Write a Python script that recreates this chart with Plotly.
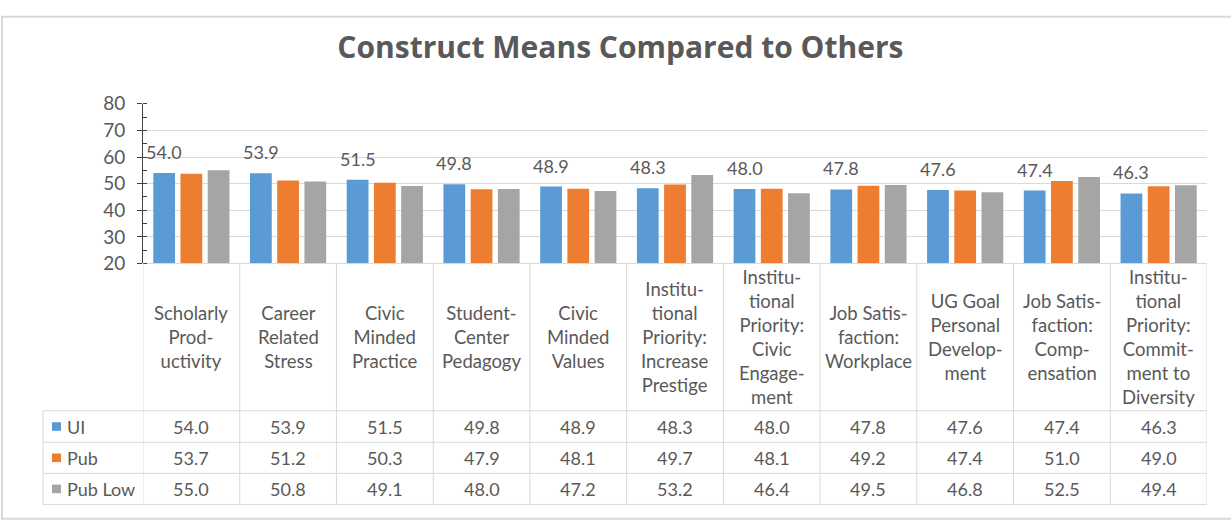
import plotly.graph_objects as go

# ---------------- data ----------------
categories = [
    "Scholarly<br>Prod-<br>uctivity",
    "Career<br>Related<br>Stress",
    "Civic<br>Minded<br>Practice",
    "Student-<br>Center<br>Pedagogy",
    "Civic<br>Minded<br>Values",
    "Institu-<br>tional<br>Priority:<br>Increase<br>Prestige",
    "Institu-<br>tional<br>Priority:<br>Civic<br>Engage-<br>ment",
    "Job Satis-<br>faction:<br>Workplace",
    "UG Goal<br>Personal<br>Develop-<br>ment",
    "Job Satis-<br>faction:<br>Comp-<br>ensation",
    "Institu-<br>tional<br>Priority:<br>Commit-<br>ment to<br>Diversity",
]
series_names = ["UI", "Pub", "Pub Low"]
ui_values = [54.0, 53.9, 51.5, 49.8, 48.9, 48.3, 48.0, 47.8, 47.6, 47.4, 46.3]
pub_values = [53.7, 51.2, 50.3, 47.9, 48.1, 49.7, 48.1, 49.2, 47.4, 51.0, 49.0]
pub_low_values = [55.0, 50.8, 49.1, 48.0, 47.2, 53.2, 46.4, 49.5, 46.8, 52.5, 49.4]
y_ticks = [20, 30, 40, 50, 60, 70, 80]

# ---------------- styling ----------------
W, H = 1231, 525
FONT = "Lato"
TXT = "#595959"
GRID = "#D9D9D9"
colors = ["#5B9BD5", "#ED7D31", "#A5A5A5"]
series_values = [ui_values, pub_values, pub_low_values]

plot_left, plot_right = 143, 1207
plot_top, plot_bottom = 96, 263
table_left = 43
header_bottom = 417
row_lines = [417, 450, 482.5, 515]

BARGAP = 0.156
BARGROUPGAP = 0.2


def px_x(px):
    return px / W


def px_y(py):
    return 1 - py / H


fig = go.Figure()
for name, vals, col in zip(series_names, series_values, colors):
    fig.add_trace(go.Bar(
        name=name, x=categories, y=vals,
        marker=dict(color=col, line=dict(width=0)),
        hoverinfo="x+y+name",
    ))

shapes = []
annotations = []

# data labels above the UI bars
cat_px = (plot_right - plot_left) / len(categories)
slot_px = cat_px * (1 - BARGAP) / len(series_names)
for c, v in zip(categories, ui_values):
    annotations.append(dict(
        x=c, y=v, xref="x", yref="y", text=f"{v:.1f}", showarrow=False,
        xshift=-slot_px, yshift=21, yanchor="middle",
        font=dict(family=FONT, size=18, color=TXT),
    ))

# table header: category labels
header_mid = px_y((plot_bottom + header_bottom) / 2)
for c in categories:
    annotations.append(dict(
        x=c, y=header_mid, xref="x", yref="paper", text=c, showarrow=False,
        yanchor="middle", align="center",
        font=dict(family=FONT, size=18.5, color=TXT),
    ))

# table rows
for r, (name, vals, col) in enumerate(zip(series_names, series_values, colors)):
    top, bot = row_lines[r], row_lines[r + 1]
    mid = px_y((top + bot) / 2)
    for c, v in zip(categories, vals):
        annotations.append(dict(
            x=c, y=mid, xref="x", yref="paper", text=f"{v:.1f}", showarrow=False,
            yanchor="middle",
            font=dict(family=FONT, size=18, color=TXT),
        ))
    # legend key
    cy = (top + bot) / 2
    shapes.append(dict(type="rect", xref="paper", yref="paper",
                       x0=px_x(52), x1=px_x(61), y0=px_y(cy - 4.5), y1=px_y(cy + 4.5),
                       fillcolor=col, line=dict(width=0)))
    annotations.append(dict(
        x=px_x(65), y=mid, xref="paper", yref="paper", text=name, showarrow=False,
        xanchor="left", yanchor="middle",
        font=dict(family=FONT, size=18, color=TXT),
    ))

# table grid lines
n = len(categories)
for i in range(n + 1):
    shapes.append(dict(type="line", xref="x", yref="paper",
                       x0=i - 0.5, x1=i - 0.5, y0=px_y(plot_bottom), y1=px_y(row_lines[-1]),
                       line=dict(color=GRID, width=1)))
for ry in row_lines:
    shapes.append(dict(type="line", xref="paper", yref="paper",
                       x0=px_x(table_left), x1=px_x(plot_right), y0=px_y(ry), y1=px_y(ry),
                       line=dict(color=GRID, width=1)))
shapes.append(dict(type="line", xref="paper", yref="paper",
                   x0=px_x(table_left), x1=px_x(table_left),
                   y0=px_y(header_bottom), y1=px_y(row_lines[-1]),
                   line=dict(color=GRID, width=1)))
# chart outer border
shapes.append(dict(type="rect", xref="paper", yref="paper",
                   x0=px_x(2), x1=px_x(W + 5), y0=px_y(H + 5), y1=px_y(5),
                   line=dict(color="#D9D9D9", width=2), fillcolor="rgba(0,0,0,0)"))

fig.update_layout(
    width=W, height=H, autosize=False,
    margin=dict(l=0, r=0, t=0, b=0),
    paper_bgcolor="white", plot_bgcolor="white",
    barmode="group", bargap=BARGAP, bargroupgap=BARGROUPGAP,
    showlegend=False,
    title=dict(text="<b>Construct Means Compared to Others</b>",
               x=0.504, xanchor="center", xref="container",
               y=1 - 47 / H, yanchor="middle", yref="container",
               font=dict(family="Open Sans", size=30, color=TXT)),
    xaxis=dict(domain=[px_x(plot_left), px_x(plot_right)], range=[-0.5, n - 0.5],
               showticklabels=False, ticks="", showgrid=False,
               showline=True, linecolor=GRID, linewidth=1, zeroline=False),
    yaxis=dict(domain=[px_y(plot_bottom), px_y(plot_top)], range=[20, 80],
               tickvals=y_ticks, showgrid=True, gridcolor=GRID, gridwidth=1,
               showline=True, linecolor="#404040", linewidth=1,
               ticks="outside", ticklen=5, tickcolor="#404040",
               minor=dict(dtick=5, ticks="inside", ticklen=4, tickcolor="#404040", showgrid=False),
               ticklabelstandoff=8, zeroline=False,
               tickfont=dict(family=FONT, size=19, color=TXT)),
    shapes=shapes, annotations=annotations,
)

fig.write_html("out.html",
               config={"displayModeBar": False},
               post_script="document.body.style.margin='0px';document.body.style.overflow='hidden';")
